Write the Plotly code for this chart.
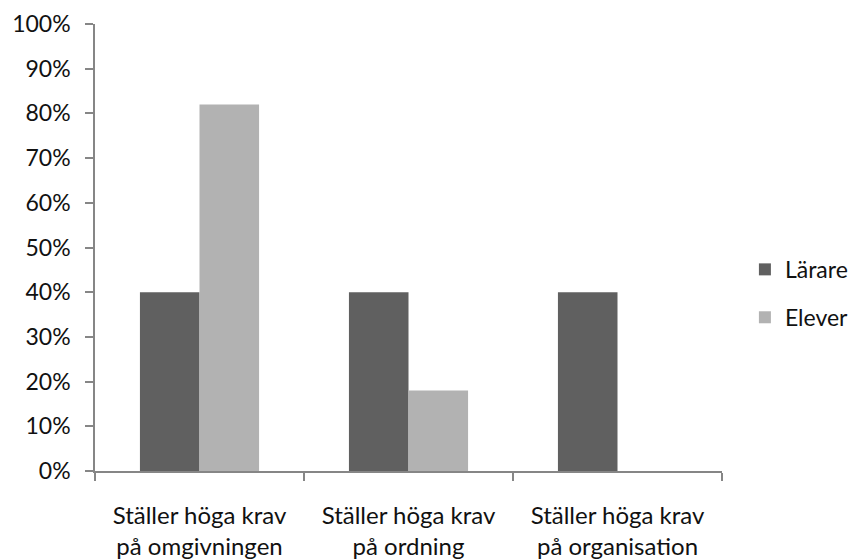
import plotly.graph_objects as go

categories = ["Ställer höga krav<br>på omgivningen", "Ställer höga krav<br>på ordning", "Ställer höga krav<br>på organisation"]
larare = [0.40, 0.40, 0.40]
elever = [0.82, 0.18, 0.0]

font_family = "Lato, 'Open Sans', sans-serif"
axis_color = "#868686"

fig = go.Figure()
fig.add_trace(go.Bar(name="Lärare", x=categories, y=larare, marker=dict(color="#606060", line=dict(width=0)), legendgroup="a"))
fig.add_trace(go.Bar(name="Elever", x=categories, y=elever, marker=dict(color="#b2b2b2", line=dict(width=0)), legendgroup="b"))

fig.update_layout(
    width=848, height=551,
    margin=dict(l=87, r=134, t=16, b=88, autoexpand=False),
    paper_bgcolor="white", plot_bgcolor="white",
    font=dict(family=font_family, size=23, color="#111111"),
    barmode="group", bargap=0.43, bargroupgap=0,
    legend=dict(xref="container", yref="container", x=0.869, y=0.482,
                xanchor="left", yanchor="middle",
                tracegroupgap=15, font=dict(size=23), itemwidth=30),
    showlegend=True,
)
fig.update_xaxes(showline=True, linecolor=axis_color, linewidth=1.5,
                 ticks="outside", ticklen=8, tickcolor=axis_color, tickwidth=1.5,
                 tickson="boundaries", showgrid=False, ticklabelstandoff=22,
                 tickfont=dict(size=24), automargin=False)
fig.update_yaxes(range=[0, 1], dtick=0.1, tickformat=".0%", showline=True,
                 linecolor=axis_color, linewidth=1.5, ticks="outside", ticklen=8,
                 tickcolor=axis_color, tickwidth=1.5, showgrid=False, zeroline=False,
                 ticklabelstandoff=10, automargin=False)

fig.write_html("out.html")
